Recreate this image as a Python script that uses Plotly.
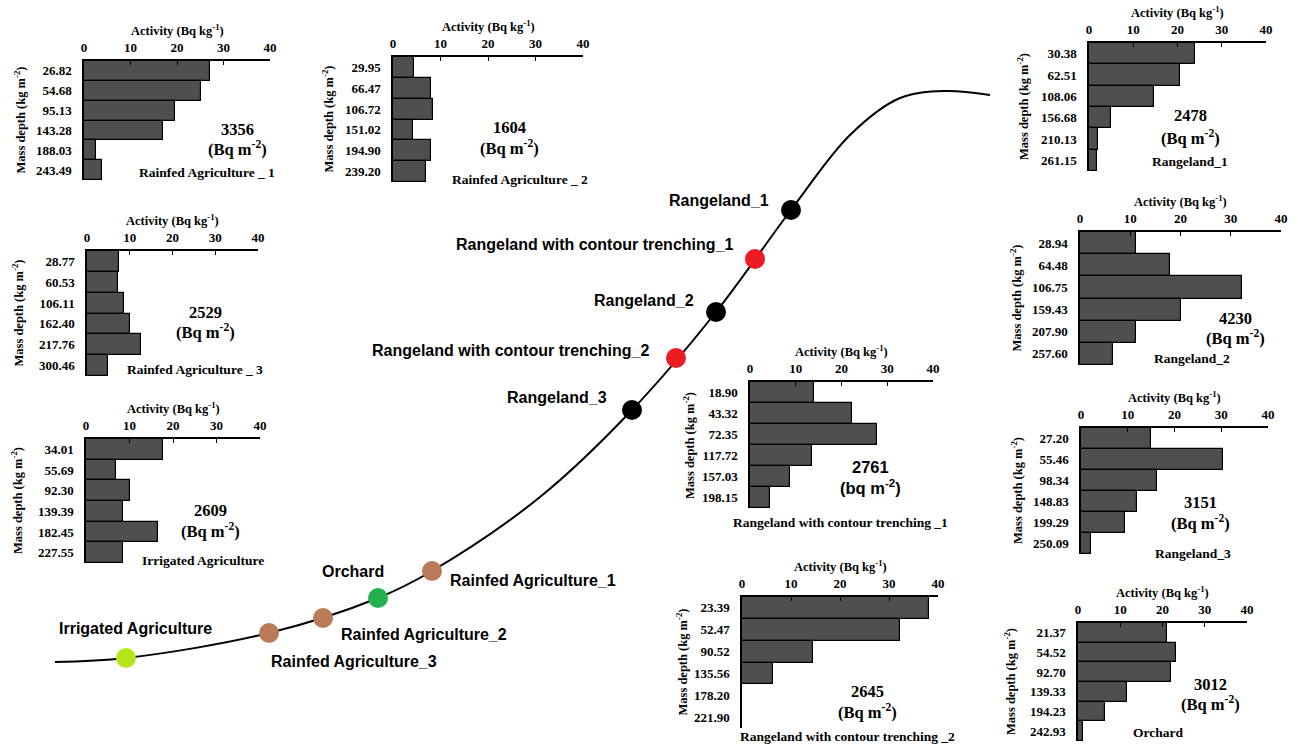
import plotly.graph_objects as go

W, H = 1298, 745

# ---------------- data ----------------
activity_ticks = [0, 10, 20, 30, 40]

ra1_depth = ["26.82", "54.68", "95.13", "143.28", "188.03", "243.49"]
ra1_activity = [27.1, 25.2, 19.5, 17.0, 2.6, 3.9]
ra1_inventory = "3356"
ra1_name = "Rainfed Agriculture _ 1"

ra2_depth = ["29.95", "66.47", "106.72", "151.02", "194.90", "239.20"]
ra2_activity = [4.5, 8.0, 8.5, 4.2, 8.0, 6.9]
ra2_inventory = "1604"
ra2_name = "Rainfed Agriculture _ 2"

r1_depth = ["30.38", "62.51", "108.06", "156.68", "210.13", "261.15"]
r1_activity = [24.0, 20.5, 14.8, 4.9, 2.1, 1.8]
r1_inventory = "2478"
r1_name = "Rangeland_1"

ra3_depth = ["28.77", "60.53", "106.11", "162.40", "217.76", "300.46"]
ra3_activity = [7.6, 7.2, 8.7, 10.1, 12.6, 5.0]
ra3_inventory = "2529"
ra3_name = "Rainfed Agriculture _ 3"

ia_depth = ["34.01", "55.69", "92.30", "139.39", "182.45", "227.55"]
ia_activity = [17.6, 7.0, 10.2, 8.6, 16.5, 8.4]
ia_inventory = "2609"
ia_name = "Irrigated Agriculture"

r2_depth = ["28.94", "64.48", "106.75", "159.43", "207.90", "257.60"]
r2_activity = [11.1, 17.9, 32.3, 20.0, 11.1, 6.6]
r2_inventory = "4230"
r2_name = "Rangeland_2"

rct1_depth = ["18.90", "43.32", "72.35", "117.72", "157.03", "198.15"]
rct1_activity = [14.0, 22.2, 27.8, 13.5, 8.8, 4.4]
rct1_inventory = "2761"
rct1_name = "Rangeland with contour trenching _1"

r3_depth = ["27.20", "55.46", "98.34", "148.83", "199.29", "250.09"]
r3_activity = [14.9, 30.4, 16.2, 12.0, 9.5, 2.1]
r3_inventory = "3151"
r3_name = "Rangeland_3"

rct2_depth = ["23.39", "52.47", "90.52", "135.56", "178.20", "221.90"]
rct2_activity = [38.2, 32.2, 14.5, 6.3, 0.0, 0.0]
rct2_inventory = "2645"
rct2_name = "Rangeland with contour trenching _2"

orch_depth = ["21.37", "54.52", "92.70", "139.33", "194.23", "242.93"]
orch_activity = [21.1, 23.3, 22.1, 11.5, 6.4, 1.1]
orch_inventory = "3012"
orch_name = "Orchard"

# schematic slope profile (drawing units = picture pixels)
curve_x = [55, 126, 269, 378, 432, 540, 632, 716, 791, 850, 900, 945, 990]
curve_y = [662, 658, 633, 598, 571, 497, 410, 312, 210, 135, 98, 91, 95]

site_names = ["Irrigated Agriculture", "Rainfed Agriculture_3", "Rainfed Agriculture_2", "Orchard",
              "Rainfed Agriculture_1", "Rangeland_3", "Rangeland with contour trenching_2",
              "Rangeland_2", "Rangeland with contour trenching_1", "Rangeland_1"]
site_x = [126, 269, 323, 378, 432, 632, 676, 716, 755, 791]
site_y = [658, 633, 618, 598, 571, 410, 358, 312, 259, 210]

# ---------------- styles / layout ----------------
site_colors = ["#b5e61d", "#b97a57", "#b97a57", "#22b14c", "#b97a57",
               "#000000", "#ed1c24", "#000000", "#ed1c24", "#000000"]
# label placement: (x, y, xanchor)
site_label_pos = [(57, 628, "left"), (269, 661, "left"), (339, 634, "left"), (353, 571, "center"),
                  (448, 580, "left"), (609, 397, "right"), (651, 350, "right"),
                  (696, 300, "right"), (735, 244, "right"), (771, 200, "right")]

panels = [
    # depth, activity, inventory, unit, name, box(x0,x40,ytop,ybot), inv(x,y), unit_y, name(x,y), ytitle_x, unit_font
    (ra1_depth, ra1_activity, ra1_inventory, "(Bq m<sup>-2</sup>)", ra1_name, (84, 270, 61, 180), (237, 129), 149, (207, 172), 20, "serif"),
    (ra2_depth, ra2_activity, ra2_inventory, "(Bq m<sup>-2</sup>)", ra2_name, (393, 583, 57, 182), (510, 127), 147, (520, 179), 327, "serif"),
    (r1_depth, r1_activity, r1_inventory, "(Bq m<sup>-2</sup>)", r1_name, (1089, 1266, 43, 171), (1190, 115), 137, (1190, 162), 1023, "serif"),
    (ra3_depth, ra3_activity, ra3_inventory, "(Bq m<sup>-2</sup>)", ra3_name, (87, 258, 251, 376), (205, 312), 331, (195, 369), 17, "serif"),
    (ia_depth, ia_activity, ia_inventory, "(Bq m<sup>-2</sup>)", ia_name, (86, 260, 439, 563), (210, 510), 530, (203, 560), 17, "serif"),
    (r2_depth, r2_activity, r2_inventory, "(Bq m<sup>-2</sup>)", r2_name, (1080, 1281, 232, 365), (1235, 318), 337, (1192, 358), 1015, "serif"),
    (rct1_depth, rct1_activity, rct1_inventory, "(bq m<sup>-2</sup>)", rct1_name, (750, 933, 382, 508), (870, 467), 487, (840, 522), 689, "sans"),
    (r3_depth, r3_activity, r3_inventory, "(Bq m<sup>-2</sup>)", r3_name, (1081, 1268, 428, 554), (1200, 503), 522, (1193, 553), 1017, "serif"),
    (rct2_depth, rct2_activity, rct2_inventory, "(Bq m<sup>-2</sup>)", rct2_name, (742, 938, 597, 728), (867, 691), 711, (847, 736), 681, "serif"),
    (orch_depth, orch_activity, orch_inventory, "(Bq m<sup>-2</sup>)", orch_name, (1078, 1247, 623, 741), (1210, 684), 703, (1158, 732), 1010, "serif"),
]

SERIF = "Liberation Serif, Times New Roman, serif"
SANS = "Liberation Sans, Arial, sans-serif"
BAR_COLOR = "#4f4f4f"


def px(x):
    return x / W


def py(y):
    return 1 - y / H


fig = go.Figure()
annotations = []

# background schematic axis (x / y)
fig.add_trace(go.Scatter(x=curve_x, y=curve_y, mode="lines", line=dict(color="black", width=2, shape="spline", smoothing=1.0),
                         hoverinfo="skip", showlegend=False, xaxis="x", yaxis="y"))
fig.add_trace(go.Scatter(x=site_x, y=site_y, mode="markers", text=site_names,
                         marker=dict(size=20, color=site_colors, line=dict(width=0)),
                         showlegend=False, xaxis="x", yaxis="y"))
for name, (lx, ly, anc) in zip(site_names, site_label_pos):
    annotations.append(dict(x=lx, y=ly, xref="x", yref="y", text=name, showarrow=False,
                            xanchor=anc, yanchor="middle",
                            font=dict(family=SANS, size=16, color="black", weight="bold")))

layout_axes = {
    "xaxis": dict(domain=[0, 1], range=[0, W], visible=False, fixedrange=True),
    "yaxis": dict(domain=[0, 1], range=[H, 0], visible=False, fixedrange=True),
}


def note(x, y, text, family, size, angle=0):
    return dict(x=px(x), y=py(y), xref="paper", yref="paper", text=text, showarrow=False,
                xanchor="center", yanchor="middle", textangle=angle,
                font=dict(family=family, size=size, color="black", weight="bold"))


for i, (depth, act, inv, unit, name, box, invpos, unit_y, namepos, ytx, ufont) in enumerate(panels):
    k = i + 2
    x0, x40, ytop, ybot = box
    fig.add_trace(go.Bar(x=act, y=depth, orientation="h", xaxis=f"x{k}", yaxis=f"y{k}",
                         marker=dict(color=BAR_COLOR, line=dict(color="black", width=1.2)),
                         showlegend=False))
    layout_axes[f"xaxis{k}"] = dict(
        domain=[px(x0), px(x40)], range=[0, 40], side="top", anchor=f"y{k}",
        tickvals=activity_ticks, ticks="inside", ticklen=4, tickcolor="black", tickwidth=1.2,
        showline=True, linecolor="black", linewidth=1.5, showgrid=False, zeroline=False,
        tickfont=dict(family=SERIF, size=13, color="black", weight="bold"),
        ticklabelstandoff=2, automargin=False, fixedrange=True,
    )
    layout_axes[f"yaxis{k}"] = dict(
        domain=[py(ybot), py(ytop)], type="category", categoryorder="array", categoryarray=depth,
        autorange="reversed", anchor=f"x{k}", showline=True, linecolor="black", linewidth=1.5,
        showgrid=False, zeroline=False, ticks="",
        tickfont=dict(family=SERIF, size=13, color="black", weight="bold"),
        ticklabelstandoff=8, automargin=False, fixedrange=True,
    )
    annotations.append(note((x0 + x40) / 2, ytop - 31, "Activity (Bq kg<sup>-1</sup>)", SERIF, 12.5))
    annotations.append(note(ytx, (ytop + ybot) / 2, "Mass depth (kg m<sup>-2</sup>)", SERIF, 12.5, -90))
    big_font = SERIF if ufont == "serif" else SANS
    annotations.append(note(invpos[0], invpos[1], inv, big_font, 16.5))
    annotations.append(note(invpos[0], unit_y, unit, big_font, 16.5))
    annotations.append(note(namepos[0], namepos[1], name, SERIF, 13.5))

fig.update_layout(
    width=W, height=H, margin=dict(l=0, r=0, t=0, b=0),
    paper_bgcolor="white", plot_bgcolor="rgba(0,0,0,0)",
    bargap=0, showlegend=False, annotations=annotations,
    **layout_axes,
)

fig.write_html("out.html", config={"displayModeBar": False},
               post_script="document.body.style.margin='0';")
